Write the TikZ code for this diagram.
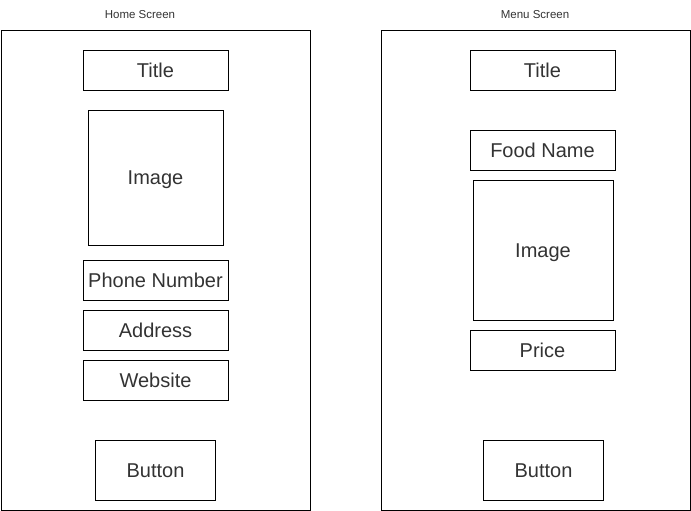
\documentclass[tikz,border=0pt]{standalone}
\usepackage{fontspec}
\setmainfont{Liberation Sans}
\definecolor{txt}{HTML}{333333}
\begin{document}
\begin{tikzpicture}[x=1pt,y=-1pt,
  frame/.style={draw=black,line width=1pt,inner sep=0pt,anchor=north west},
  widget/.style={draw=black,line width=1pt,inner sep=0pt,anchor=center,text=txt,text depth=0pt,font=\fontsize{20}{24}\selectfont},
  caption/.style={inner sep=0pt,text=txt,font=\fontsize{11.5}{14}\selectfont}]
\useasboundingbox (0,0) rectangle (691,511);
% frames
\node[frame,minimum width=309pt,minimum height=479pt] (homeframe) at (0.5,30.5) {};
\node[frame,minimum width=309pt,minimum height=479pt] (menuframe) at (380.5,30.5) {};
\node[caption] (homecap) at (140,15) {Home Screen};
\node[caption] (menucap) at (535,15) {Menu Screen};
% home screen
\node[widget,minimum width=145pt,minimum height=40pt] (htitle) at (155.5,70.5) {Title};
\node[widget,minimum width=135pt,minimum height=135pt] (himage) at (155.5,178) {Image};
\node[widget,minimum width=145pt,minimum height=40pt] (hphone) at (155.5,280.5) {Phone Number};
\node[widget,minimum width=145pt,minimum height=40pt] (haddr) at (155.5,330.5) {Address};
\node[widget,minimum width=145pt,minimum height=40pt] (hweb) at (155.5,380.5) {Website};
\node[widget,minimum width=120pt,minimum height=60pt] (hbtn) at (155.5,470.5) {Button};
% menu screen
\node[widget,minimum width=145pt,minimum height=40pt] (mtitle) at (542.5,70.5) {Title};
\node[widget,minimum width=145pt,minimum height=40pt] (mfood) at (542.5,150.5) {Food Name};
\node[widget,minimum width=140pt,minimum height=140pt] (mimage) at (543,250.5) {Image};
\node[widget,minimum width=145pt,minimum height=40pt] (mprice) at (542.5,350.5) {Price};
\node[widget,minimum width=120pt,minimum height=60pt] (mbtn) at (543.5,470.5) {Button};
\end{tikzpicture}
\end{document}
